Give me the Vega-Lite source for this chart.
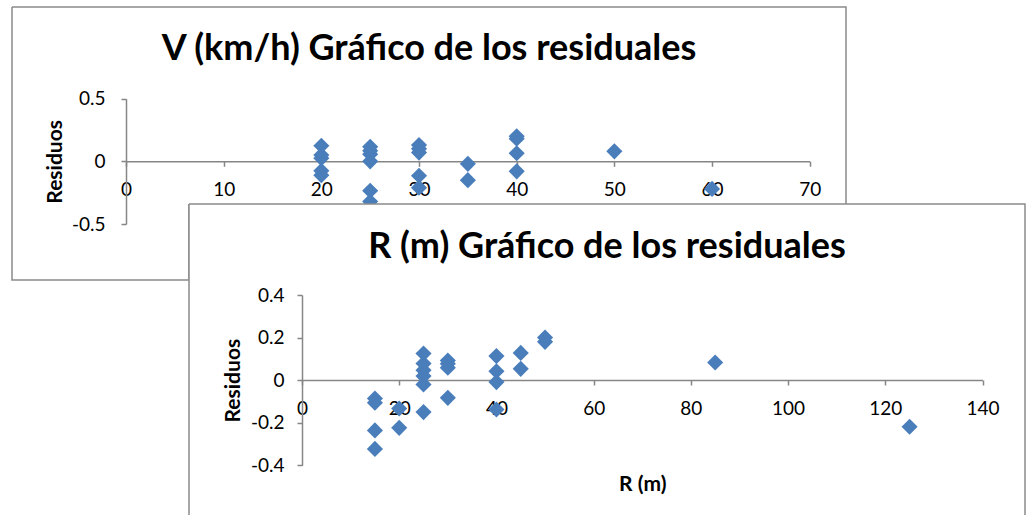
{
  "$schema": "https://vega.github.io/schema/vega-lite/v6.json",
  "padding": {"left": 11, "top": 6, "right": 0, "bottom": 0},
  "background": "white",
  "config": {
    "font": "Lato",
    "view": {"stroke": "#8a8a8a", "strokeWidth": 1.5, "fill": "white"},
    "axis": {
      "grid": false,
      "domainColor": "#868686",
      "domainWidth": 1.5,
      "tickColor": "#868686",
      "tickWidth": 1.5,
      "tickSize": 5,
      "labelColor": "#000000",
      "labelFont": "Lato",
      "labelFontSize": 19,
      "titleFont": "Lato",
      "titleFontSize": 21,
      "titleFontWeight": "bold",
      "titleColor": "#000000",
      "labelFlush": false,
      "labelOverlap": false
    },
    "title": {"font": "Lato", "fontSize": 36, "fontWeight": "bold", "color": "#000000"}
  },
  "datasets": {
    "velocidad": [
      {"V": 20, "residuo": 0.124}, {"V": 20, "residuo": 0.05}, {"V": 20, "residuo": 0.025}, {"V": 20, "residuo": -0.076}, {"V": 20, "residuo": -0.11},
      {"V": 25, "residuo": 0.116}, {"V": 25, "residuo": 0.084}, {"V": 25, "residuo": 0.057}, {"V": 25, "residuo": 0.0}, {"V": 25, "residuo": -0.235}, {"V": 25, "residuo": -0.32},
      {"V": 30, "residuo": 0.13}, {"V": 30, "residuo": 0.1}, {"V": 30, "residuo": 0.07}, {"V": 30, "residuo": -0.115}, {"V": 30, "residuo": -0.21},
      {"V": 35, "residuo": -0.02}, {"V": 35, "residuo": -0.15},
      {"V": 40, "residuo": 0.2}, {"V": 40, "residuo": 0.18}, {"V": 40, "residuo": 0.065}, {"V": 40, "residuo": -0.08},
      {"V": 50, "residuo": 0.08},
      {"V": 60, "residuo": -0.22}
    ],
    "radio": [
      {"R": 15, "residuo": -0.086}, {"R": 15, "residuo": -0.106}, {"R": 15, "residuo": -0.236}, {"R": 15, "residuo": -0.323},
      {"R": 20, "residuo": -0.133}, {"R": 20, "residuo": -0.224},
      {"R": 25, "residuo": 0.125}, {"R": 25, "residuo": 0.078}, {"R": 25, "residuo": 0.047}, {"R": 25, "residuo": 0.019}, {"R": 25, "residuo": -0.02}, {"R": 25, "residuo": -0.15},
      {"R": 30, "residuo": 0.092}, {"R": 30, "residuo": 0.077}, {"R": 30, "residuo": 0.058}, {"R": 30, "residuo": -0.083},
      {"R": 40, "residuo": 0.113}, {"R": 40, "residuo": 0.042}, {"R": 40, "residuo": -0.009}, {"R": 40, "residuo": -0.138},
      {"R": 45, "residuo": 0.128}, {"R": 45, "residuo": 0.053},
      {"R": 50, "residuo": 0.2}, {"R": 50, "residuo": 0.18},
      {"R": 85, "residuo": 0.083},
      {"R": 125, "residuo": -0.219}
    ],
    "vacio": [{"a": 0}]
  },
  "vconcat": [
    {
      "width": 834,
      "height": 197,
      "view": {"strokeDash": [1031, 834, 197, 0]},
      "title": {"text": "V (km/h) Gráfico de los residuales", "anchor": "middle", "frame": "group", "offset": -61},
      "data": {"name": "velocidad"},
      "mark": {"type": "point", "shape": "diamond", "filled": true, "size": 260, "color": "#4a7ebb", "opacity": 1},
      "encoding": {
        "x": {
          "field": "V", "type": "quantitative",
          "scale": {"domain": [0, 70], "range": [114, 797.7], "nice": false, "zero": false},
          "axis": {"title": null, "values": [0, 10, 20, 30, 40, 50, 60, 70], "offset": -42.7, "labelPadding": 14.5}
        },
        "y": {
          "field": "residuo", "type": "quantitative",
          "scale": {"domain": [-0.5, 0.5], "range": [217, 91.7], "nice": false, "zero": false},
          "axis": {"title": "Residuos", "values": [-0.5, 0, 0.5], "offset": -114, "labelPadding": 16, "titlePadding": 6, "labelExpr": "'' + datum.value"}
        }
      }
    },
    {
      "hconcat": [
        {
          "width": 177,
          "height": 76,
          "data": {"name": "vacio"},
          "mark": {"type": "point", "opacity": 0},
          "encoding": {},
          "view": {"fill": "transparent", "stroke": "#8a8a8a", "strokeWidth": 1.5, "strokeDash": [329, 177], "strokeDashOffset": 329}
        },
        {
          "width": 836,
          "height": 311,
          "view": {"strokeDash": [1147, 836, 311, 0]},
          "title": {"text": "R (m) Gráfico de los residuales", "anchor": "middle", "frame": "group", "offset": -62},
          "data": {"name": "radio"},
          "mark": {"type": "point", "shape": "diamond", "filled": true, "size": 260, "color": "#4a7ebb", "opacity": 1},
          "encoding": {
            "x": {
              "field": "R", "type": "quantitative",
              "scale": {"domain": [0, 140], "range": [113, 793.5], "nice": false, "zero": false},
              "axis": {"title": "R (m)", "values": [0, 20, 40, 60, 80, 100, 120, 140], "offset": -135, "labelPadding": 14.5, "titlePadding": 55}
            },
            "y": {
              "field": "residuo", "type": "quantitative",
              "scale": {"domain": [-0.4, 0.4], "range": [261.3, 91], "nice": false, "zero": false},
              "axis": {"title": "Residuos", "values": [-0.4, -0.2, 0, 0.2, 0.4], "offset": -113, "labelPadding": 13, "titlePadding": 7, "labelExpr": "'' + datum.value"}
            }
          }
        }
      ],
      "spacing": 0,
      "bounds": "flush"
    }
  ],
  "spacing": 0,
  "bounds": "flush"
}
